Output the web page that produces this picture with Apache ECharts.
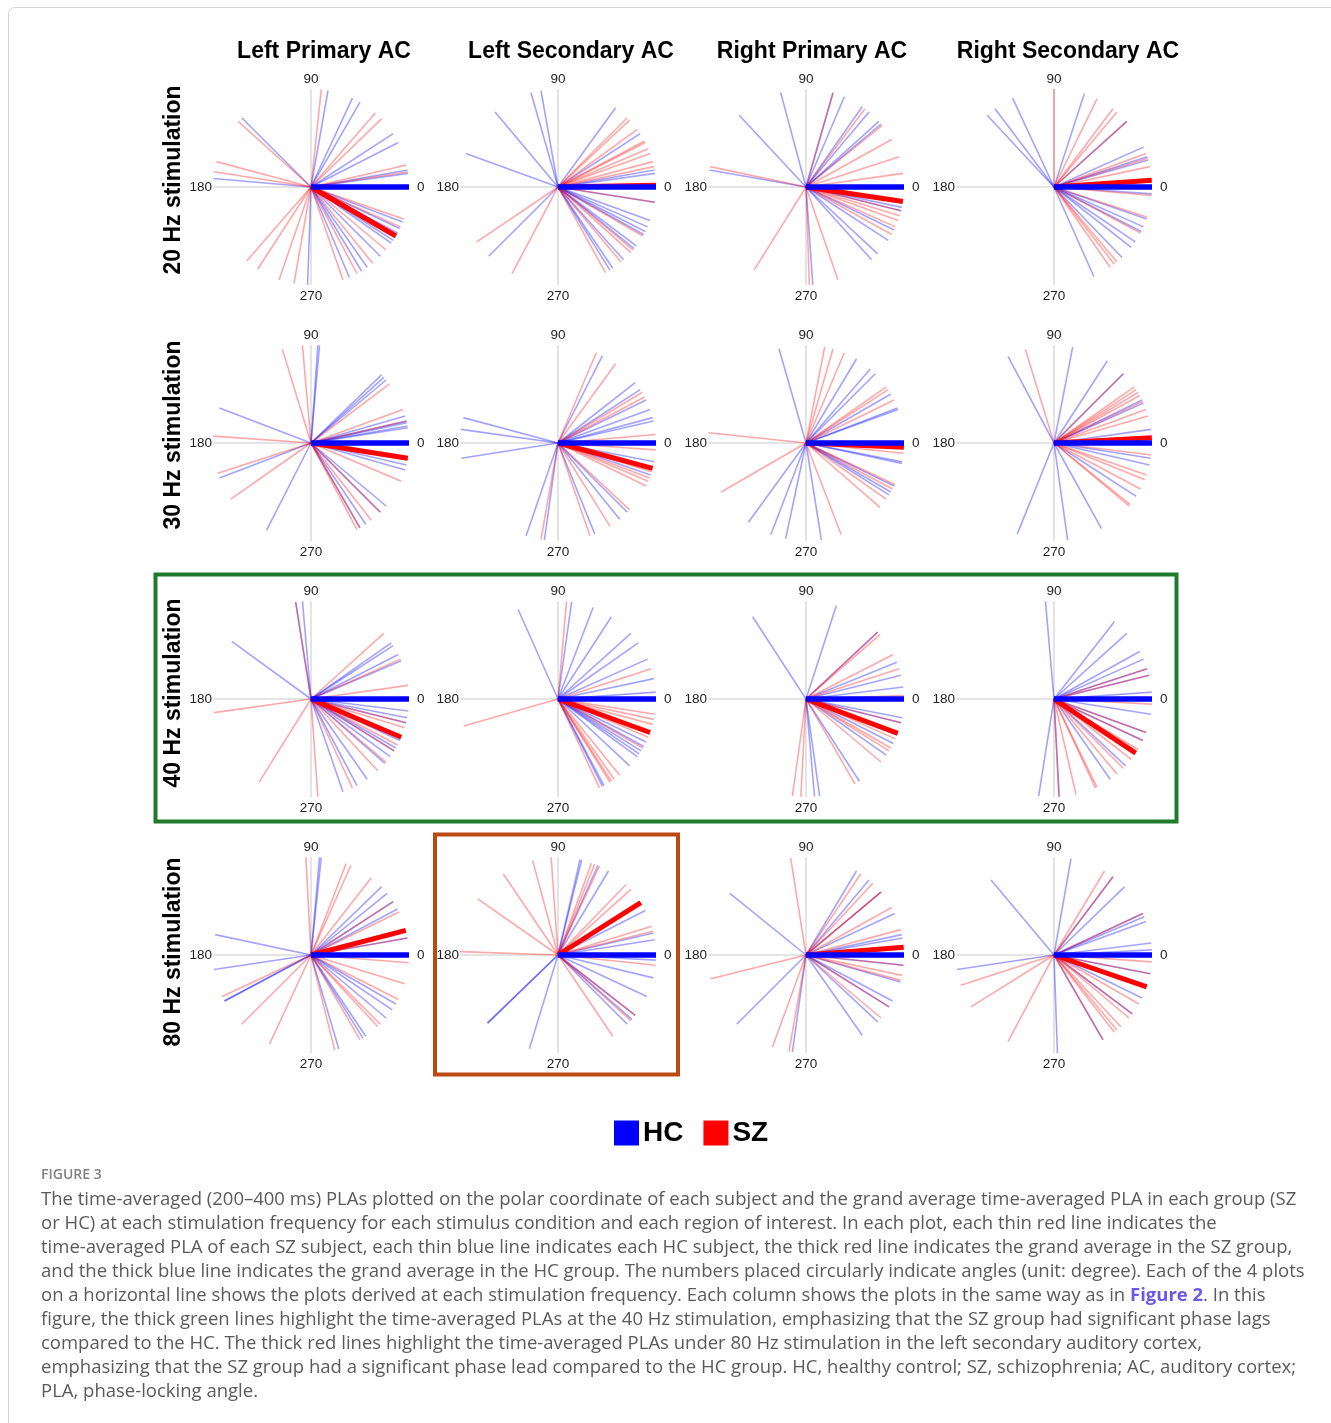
<!DOCTYPE html>
<html><head><meta charset="utf-8">
<script src="https://cdn.jsdelivr.net/npm/echarts@6/dist/echarts.min.js"></script>
<style>html,body{margin:0;padding:0;background:#fff}#c{width:1331px;height:1423px}</style>
</head><body><div id="c"></div>
<script>
// ---- categories / labels ----
const regions = ['Left Primary AC', 'Left Secondary AC', 'Right Primary AC', 'Right Secondary AC'];
const freqs = ['20 Hz stimulation', '30 Hz stimulation', '40 Hz stimulation', '80 Hz stimulation'];
const angleTicks = [0, 90, 180, 270];

// ---- per-subject phase-locking angles (degrees), SZ = red, HC = blue ----
const sz20LP = [84, 49, 44, 138, 165, 171, 13, 9, -19, -29, -131, -123, -109, -100, -71, -62, -51, -40, -24];
const hc20LP = [80, 65, 60, 33, 27, 135, 175, 8, 10, -21, -25, -28, -92, -67, -59, -55, -45, -35, -33];
const sz20LS = [45, 43, 36, 28, 27, 23, 20, 15, 12, 1, -146, -118, -61, -42, -40, -50, -9, -30];
const hc20LS = [106, 100, 130, 160, 54, 33, 10, 8, -9, -24, -27, -29, -37, -39, -48, -58, -56, -135, -20];
const sz20RP = [74, 53, 39, 29, 18, 8, 168, -17, -20, -29, -122, -88, -71, -14, -24];
const hc20RP = [105, 133, 170, 67, 55, 42, 40, 74, -12, -14, -26, -33, -43, -48, -86, 50];
const sz20RS = [90, 64, 53, 50, 17, 12, -5, -18, -52, -50, -55, 42, 20, -28];
const hc20RS = [115, 127, 133, 72, 24, 18, 16, -4, -24, -27, -34, -38, -46, -66, 42, -19];

const sz30LP = [107, 95, 37, 20, 176, -162, -145, -23, -45, -52, -62, -60, 13, -10];
const hc30LP = [86, 85, 44, 42, 40, 16, 13, 10, 9, 159, -159, -117, -13, -16, -45, -56, -60, 12, -40];
const sz30LS = [67, 54, 31, 5, -4, -23, -43, -58, -71, -100, -21, -17, -26, 28];
const hc30LS = [63, 38, 33, 26, 15, 13, 165, 172, -171, -109, -98, -68, -51, -45, -19, -11, 20];
const sz30RP = [79, 74, 67, 35, 33, 26, 174, -150, -69, -41, -35, -25, -6, -28];
const hc30RP = [106, 59, 49, 45, 30, 21, 20, -12, -11, -26, -32, -126, -111, -102, -81, -30];
const sz30RS = [107, 35, 33, 31, 29, 20, 16, -22, -28, -40, -39, -19, -7, 45, 25];
const hc30RS = [118, 79, 57, 26, 24, 8, -13, -33, -61, -112, -82, 45, -9];

const sz40LP = [99, 42, 24, 8, -172, -122, -86, -65, -47, -40, -32, -17, -14, -28];
const hc40LP = [99, 95, 144, 35, 33, 27, 23, -7, -11, -14, -25, -30, -32, -41, -55, -62, -71, -36];
const sz40LS = [85, -164, 18, -9, -12, -15, -21, -23, -51, -55, -57, -65, -58, -30];
const hc40LS = [114, 82, 69, 57, 42, 35, 24, 4, 12, -29, -32, -34, -36, -43, -63, -62, -26];
const sz40RP = [41, 27, 18, 2, -98, -93, -60, -40, -32, -24, -14, 43, -30];
const hc40RP = [123, 72, 43, 22, 14, 7, -11, -14, -27, -57, -82, -85, -35];
const sz40RS = [18, -3, -20, -25, -65, -64, -77, -50, -38, -31, -87, 14, -45];
const hc40RS = [95, 52, 42, 29, 24, 18, 14, 4, -9, -20, -43, -55, -99, -25, -87];

const sz80LP = [93, 69, 66, 52, 33, 26, 10, -4.5, -17, -27, -47, -45, -76, -135, -115, -155, -60];
const hc80LP = [85, 84, 44, 39, 33, 28, 10, 168, -171.5, -152, -30, -34, -56, -58, -73.5, -40, -152];
const sz80LS = [105, 94, 124, 145, 178, 70, 68, 65, 46, 42, 17, 14, -6, -38, -56, -42, 33, 31];
const hc80LS = [77, 76, 66, 59, 27, 13, 9, -3, -13.5, -25, -38, -41, -45, -107, -136, -136, 33];
const sz80RP = [99, 56, 47, 40, 29, 15, -166, -110, -100, -40, -32, -12, -15, 40, -6];
const hc80RP = [141, 59, 50, 40, 25, 12, 10, -135, -98, -6, -16, -28, -43, -55, -32];
const sz80RS = [59, 53, 25, -162, -148, -118, -4, -11, -37, -47, -50, -52, -40, -30, -60];
const hc80RS = [130, 80, 44, 23, 20, 7, 3, -171.5, -88, -18, -26, -37, -60, -11, 25, 53];

// ---- grand averages (degrees), per region in each row ----
const szMean20 = [-30, 1, -8.5, 4];
const szMean30 = [-9, -15, -2.5, 3];
const szMean40 = [-23, -20, -20.5, -33.5];
const szMean80 = [14.6, 32.4, 4.6, -19];
const hcMean20 = [0, 0, 0, 0];
const hcMean30 = [0, 0, 0, 0];
const hcMean40 = [0, 0, 0, 0];
const hcMean80 = [0, 0, 0, 0];

const szGrid = [[sz20LP, sz20LS, sz20RP, sz20RS], [sz30LP, sz30LS, sz30RP, sz30RS], [sz40LP, sz40LS, sz40RP, sz40RS], [sz80LP, sz80LS, sz80RP, sz80RS]];
const hcGrid = [[hc20LP, hc20LS, hc20RP, hc20RS], [hc30LP, hc30LS, hc30RP, hc30RS], [hc40LP, hc40LS, hc40RP, hc40RS], [hc80LP, hc80LS, hc80RP, hc80RS]];
const szMeans = [szMean20, szMean30, szMean40, szMean80];
const hcMeans = [hcMean20, hcMean30, hcMean40, hcMean80];

const captionLines = [
  'The time-averaged (200\u2013400 ms) PLAs plotted on the polar coordinate of each subject and the grand average time-averaged PLA in each group (SZ',
  'or HC) at each stimulation frequency for each stimulus condition and each region of interest. In each plot, each thin red line indicates the',
  'time-averaged PLA of each SZ subject, each thin blue line indicates each HC subject, the thick red line indicates the grand average in the SZ group,',
  'and the thick blue line indicates the grand average in the HC group. The numbers placed circularly indicate angles (unit: degree). Each of the 4 plots',
  'on a horizontal line shows the plots derived at each stimulation frequency. Each column shows the plots in the same way as in {f|Figure 2}. In this',
  'figure, the thick green lines highlight the time-averaged PLAs at the 40 Hz stimulation, emphasizing that the SZ group had significant phase lags',
  'compared to the HC. The thick red lines highlight the time-averaged PLAs under 80 Hz stimulation in the left secondary auditory cortex,',
  'emphasizing that the SZ group had a significant phase lead compared to the HC group. HC, healthy control; SZ, schizophrenia; AC, auditory cortex;',
  'PLA, phase-locking angle.'
];

// ---- layout ----
const colX = [311, 558, 806, 1054];
const rowY = [187, 443, 699, 955];
const R = 98;
const RED = '#ff0000', BLUE = '#0000ff';

const chart = echarts.init(document.getElementById('c'), null, { renderer: 'canvas' });
const polar = [], angleAxis = [], radiusAxis = [], series = [];
const norm = a => ((a % 360) + 360) % 360;

function spokes(pi, name, angles, color, width, opacity, z) {
  return {
    type: 'custom', name, coordinateSystem: 'polar', polarIndex: pi, z,
    encode: { radius: 0, angle: 1 },
    data: angles.map(a => [1, norm(a)]),
    itemStyle: { color }, silent: true, animation: false,
    renderItem: (params, api) => {
      const a = api.value(1);
      const p0 = api.coord([0, a]);
      const p1 = api.coord([api.value(0), a]);
      return { type: 'line', shape: { x1: p0[0], y1: p0[1], x2: p1[0], y2: p1[1] },
        style: { stroke: color, lineWidth: width, opacity: opacity, lineCap: 'butt' } };
    }
  };
}

const labelFont = { fontSize: 13.5, color: '#222', fontFamily: '"Liberation Sans", Arial, sans-serif' };
for (let r = 0; r < 4; r++) {
  for (let c = 0; c < 4; c++) {
    const pi = r * 4 + c;
    polar.push({ center: [colX[c], rowY[r]], radius: R });
    angleAxis.push({
      polarIndex: pi, type: 'value', min: 0, max: 360, interval: 90, startAngle: 0, clockwise: false,
      axisLine: { show: false }, axisTick: { show: false },
      splitLine: { show: true, lineStyle: { color: '#dcdcdc', width: 1.5 } },
      axisLabel: { show: true, margin: 1, ...labelFont,
        rich: {
          e: { ...labelFont, padding: [0, 0, 0, 7] },
          n: { ...labelFont, padding: [0, 0, 2, 0] },
          w: { ...labelFont, padding: [0, 0, 0, 0] },
          s: { ...labelFont, padding: [3, 0, 0, 0] }
        },
        formatter: v => {
          if (angleTicks.indexOf(v) < 0) return '';
          const k = ['e', 'n', 'w', 's'][angleTicks.indexOf(v)];
          return '{' + k + '|' + v + '}';
        } }
    });
    radiusAxis.push({ polarIndex: pi, type: 'value', min: 0, max: 1,
      axisLine: { show: false }, axisTick: { show: false }, axisLabel: { show: false }, splitLine: { show: false } });
    series.push(spokes(pi, 'HC', hcGrid[r][c], BLUE, 1.6, 0.36, 2));
    series.push(spokes(pi, 'SZ', szGrid[r][c], RED, 1.6, 0.34, 2));
    series.push(spokes(pi, 'SZ', [szMeans[r][c]], RED, 5, 1, 3));
    series.push(spokes(pi, 'HC', [hcMeans[r][c]], BLUE, 5.5, 1, 4));
  }
}

const graphic = [];
graphic.push({ type: 'rect', shape: { x: 8.5, y: 7.5, width: 1400, height: 1500, r: 6 }, style: { fill: 'none', stroke: '#d3d3d3', lineWidth: 1 }, silent: true });
const titleX = [324, 571, 812, 1068];
regions.forEach((t, i) => graphic.push({ type: 'text', x: titleX[i], y: 52,
  style: { text: t, font: 'bold 23px "Liberation Sans", Arial, sans-serif', fill: '#000', align: 'center', verticalAlign: 'middle', textAlign: 'center', textVerticalAlign: 'middle' } }));
const rowLabelY = [180, 435, 693, 952];
freqs.forEach((t, i) => graphic.push({ type: 'text', x: 174, y: rowLabelY[i], rotation: Math.PI / 2,
  style: { text: t, font: 'bold 23px "Liberation Sans", Arial, sans-serif', fill: '#000', align: 'center', verticalAlign: 'middle', textAlign: 'center', textVerticalAlign: 'middle' } }));
graphic.push({ type: 'rect', shape: { x: 155.5, y: 574.5, width: 1021, height: 247 }, style: { fill: 'none', stroke: '#1e7a2c', lineWidth: 4 }, z: 10 });
graphic.push({ type: 'rect', shape: { x: 435, y: 834.5, width: 243, height: 240 }, style: { fill: 'none', stroke: '#b84a12', lineWidth: 4 }, z: 10 });
graphic.push({ type: 'text', x: 41, y: 1175,
  style: { text: 'FIGURE 3', font: '600 14px "Open Sans", sans-serif', fill: '#808080', align: 'left', verticalAlign: 'middle', textAlign: 'left', textVerticalAlign: 'middle' } });
captionLines.forEach((t, i) => graphic.push({ type: 'text', x: 41, y: 1200 + i * 24,
  style: { text: t, font: '18.5px "Open Sans", sans-serif', fill: '#5a5a5a', align: 'left', verticalAlign: 'middle', textAlign: 'left', textVerticalAlign: 'middle',
    rich: { f: { font: 'bold 18.5px "Open Sans", sans-serif', fill: '#6a5ae8', color: '#6a5ae8' } } } }));

chart.setOption({
  backgroundColor: '#fff',
  animation: false,
  polar, angleAxis, radiusAxis, series, graphic,
  legend: {
    left: 614, top: 1119, itemWidth: 25, itemHeight: 25, itemGap: 20, icon: 'rect', selectedMode: false, padding: 0,
    textStyle: { fontSize: 28, fontWeight: 'bold', color: '#000', fontFamily: '"Liberation Sans", Arial, sans-serif', padding: [0, 0, 0, -1] },
    data: [{ name: 'HC', itemStyle: { color: BLUE } }, { name: 'SZ', itemStyle: { color: RED } }]
  }
});
</script></body></html>
